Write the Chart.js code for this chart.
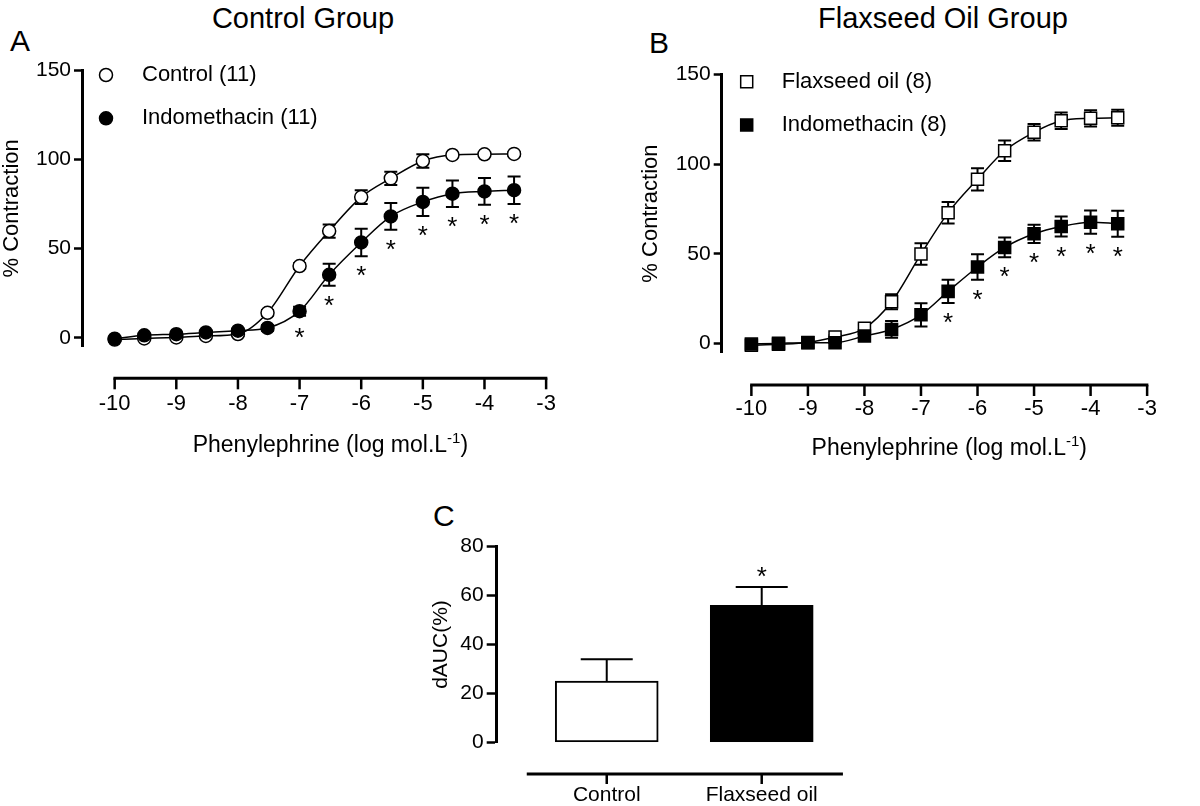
<!DOCTYPE html>
<html>
<head>
<meta charset="utf-8">
<script src="https://cdn.jsdelivr.net/npm/chart.js@4.4.0/dist/chart.umd.min.js"></script>
<style>
  body { margin: 0; background: #fff; }
  #painel { position: relative; width: 1200px; height: 806px; overflow: hidden; background: #fff;
            font-family: "Liberation Sans", Arial, sans-serif; color: #000; }
  canvas { position: absolute; }
  .txt { position: absolute; line-height: 1; white-space: nowrap; }
  .titulo { font-size: 29px; transform: translateX(-50%); }
  .letra { font-size: 30px; }
</style>
</head>
<body>
<div id="painel">
  <div class="txt titulo" style="left:303px; top:4px;">Control Group</div>
  <div class="txt titulo" style="left:943px; top:4px;">Flaxseed Oil Group</div>
  <div class="txt letra" style="left:10px; top:26px;">A</div>
  <div class="txt letra" style="left:649px; top:28px;">B</div>
  <div class="txt letra" style="left:433px; top:501px;">C</div>
  <canvas id="graficoA" width="600" height="470" style="left:0; top:0;"></canvas>
  <canvas id="graficoB" width="570" height="470" style="left:630px; top:0;"></canvas>
  <canvas id="graficoC" width="520" height="316" style="left:380px; top:490px;"></canvas>
</div>
<script>
// ---- dados ----
// log da concentração de fenilefrina (1e-10, 3e-10, 1e-9, ...)
const logConc = [-10, -9.52, -9, -8.52, -8, -7.52, -7, -6.52, -6, -5.52, -5, -4.52, -4, -3.52];
const xTicks = [-10, -9, -8, -7, -6, -5, -4, -3];
const yTicksAB = [0, 50, 100, 150];

// Painel A - grupo controle
const controleA     = [-1, -0.4, 0.2, 1, 2.1, 14, 40.2, 59.8, 78.8, 89.3, 99, 102.4, 102.8, 103];
const controleAErro = [0, 0, 0, 0, 1, 1.5, 1.5, 3.7, 3.9, 3.7, 3.8, 1, 1, 1];
const indoA         = [-0.5, 1.4, 2, 3, 4, 5.5, 14.9, 35.3, 53.4, 68, 76.1, 80.7, 82, 82.7];
const indoAErro     = [0, 0, 0, 1, 1, 1.5, 2.5, 6.1, 7.7, 7.5, 7.9, 7.4, 7.5, 7.7];
const indoASig      = [0, 0, 0, 0, 0, 0, 1, 1, 1, 1, 1, 1, 1, 1];

// Painel B - grupo óleo de linhaça
const linhacaB      = [-1, -0.5, 0.5, 3.5, 8.4, 23.2, 49.8, 72.8, 91.5, 107.4, 117.7, 124.1, 125.5, 125.8];
const linhacaBErro  = [0, 0, 0, 1, 2, 4.2, 6, 6, 6.2, 5.7, 4.6, 4.6, 4.5, 4.5];
const indoB         = [-0.4, 0, 0.4, 0.4, 4.1, 7.8, 15.9, 29, 42.6, 53.5, 61.1, 65.2, 67.6, 66.7];
const indoBErro     = [0, 0, 0, 0, 1, 4.7, 6.5, 6.5, 7.1, 5.5, 5.1, 5.6, 6.5, 7.2];
const indoBSig      = [0, 0, 0, 0, 0, 0, 0, 1, 1, 1, 1, 1, 1, 1];

// Painel C - dAUC
const gruposC  = ['Control', 'Flaxseed oil'];
const dAUC     = [25, 56];
const dAUCErro = [9, 7.5];
const dAUCSig  = [0, 1];
const yTicksC  = [0, 20, 40, 60, 80];

Chart.defaults.font.family = '"Liberation Sans", Arial, sans-serif';
Chart.defaults.color = '#000';

// barras de erro (SEM) desenhadas com as escalas do gráfico
function desenhaErros(chart, opts) {
    const ctx = chart.ctx;
    const ys = chart.scales.y;
    ctx.save();
    ctx.strokeStyle = '#000';
    ctx.lineWidth = opts.espessura;
    chart.data.datasets.forEach((ds, i) => {
        if (!ds.yErr) return;
        const meta = chart.getDatasetMeta(i);
        meta.data.forEach((el, j) => {
            const e = ds.yErr[j];
            if (!e) return;
            const v = ds.data[j].y;
            const topo = ys.getPixelForValue(v + e);
            const base = opts.soAcima ? el.y : ys.getPixelForValue(v - e);
            ctx.beginPath();
            ctx.moveTo(el.x, topo);
            ctx.lineTo(el.x, base);
            ctx.moveTo(el.x - opts.tampa, topo);
            ctx.lineTo(el.x + opts.tampa, topo);
            if (!opts.soAcima) {
                ctx.moveTo(el.x - opts.tampa, base);
                ctx.lineTo(el.x + opts.tampa, base);
            }
            ctx.stroke();
        });
    });
    ctx.restore();
}

const barrasErro = {
    id: 'barrasErro',
    beforeDatasetsDraw(chart, args, opts) { if (!opts.depois) desenhaErros(chart, opts); },
    afterDatasetsDraw(chart, args, opts) { if (opts.depois) desenhaErros(chart, opts); }
};

// asteriscos de significância
const asteriscos = {
    id: 'asteriscos',
    afterDatasetsDraw(chart, args, opts) {
        const ctx = chart.ctx;
        const ys = chart.scales.y;
        ctx.save();
        ctx.fillStyle = '#000';
        ctx.font = opts.fonte;
        ctx.textAlign = 'center';
        ctx.textBaseline = 'alphabetic';
        chart.data.datasets.forEach((ds, i) => {
            if (!ds.sig) return;
            const meta = chart.getDatasetMeta(i);
            meta.data.forEach((el, j) => {
                if (!ds.sig[j]) return;
                const v = ds.data[j].y;
                const e = ds.yErr ? ds.yErr[j] : 0;
                let yc;
                if (opts.acima) {
                    yc = ys.getPixelForValue(v + e) - opts.distancia;
                } else {
                    yc = Math.max(ys.getPixelForValue(v - e), el.y + (ds.pointRadius || 0)) + opts.distancia;
                }
                ctx.fillText('*', el.x, yc + opts.ajuste);
            });
        });
        ctx.restore();
    }
};

// legenda dentro da área do gráfico (estilo GraphPad)
const legendaInterna = {
    id: 'legendaInterna',
    afterDatasetsDraw(chart, args, opts) {
        const {ctx, chartArea} = chart;
        ctx.save();
        chart.data.datasets.forEach((ds, i) => {
            const cx = chartArea.left + opts.marcadorX;
            const cy = chartArea.top + opts.topo + i * opts.espaco;
            ctx.lineWidth = ds.pointBorderWidth;
            ctx.strokeStyle = ds.pointBorderColor;
            ctx.fillStyle = ds.pointBackgroundColor;
            Chart.helpers.drawPoint(ctx, {
                pointStyle: ds.pointStyle,
                radius: ds.pointRadius,
                borderWidth: ds.pointBorderWidth,
                rotation: 0
            }, cx, cy);
            ctx.fillStyle = '#000';
            ctx.font = opts.fonte;
            ctx.textAlign = 'left';
            ctx.textBaseline = 'middle';
            ctx.fillText(ds.label, chartArea.left + opts.textoX, cy);
        });
        ctx.restore();
    }
};

// eixo X destacado, abaixo da área do gráfico
const eixoX = {
    id: 'eixoX',
    afterDraw(chart, args, opts) {
        const {ctx, chartArea} = chart;
        const xs = chart.scales.x;
        const y = chartArea.bottom + opts.distancia;
        const x0 = xs.getPixelForValue(opts.de);
        const x1 = xs.getPixelForValue(opts.ate);
        ctx.save();
        ctx.strokeStyle = '#000';
        ctx.lineWidth = 3;
        ctx.beginPath();
        ctx.moveTo(x0 - 1.25, y);
        ctx.lineTo(x1 + 1.25, y);
        ctx.stroke();
        ctx.lineWidth = 2.5;
        xs.ticks.forEach(t => {
            const x = xs.getPixelForValue(t.value);
            ctx.beginPath();
            ctx.moveTo(x, y);
            ctx.lineTo(x, y + opts.marca);
            ctx.stroke();
        });
        if (opts.titulo) {
            // título centrado na linha do eixo, com expoente
            const [base, expoente, fim] = opts.titulo;
            ctx.fillStyle = '#000';
            ctx.textBaseline = 'alphabetic';
            ctx.textAlign = 'left';
            ctx.font = '23px "Liberation Sans", Arial, sans-serif';
            const wBase = ctx.measureText(base).width;
            const wFim = ctx.measureText(fim).width;
            ctx.font = '15px "Liberation Sans", Arial, sans-serif';
            const wExp = ctx.measureText(expoente).width;
            let x = (x0 + x1) / 2 - (wBase + wExp + wFim) / 2;
            const yb = chartArea.bottom + opts.tituloDist;
            ctx.font = '23px "Liberation Sans", Arial, sans-serif';
            ctx.fillText(base, x, yb);
            x += wBase;
            ctx.font = '15px "Liberation Sans", Arial, sans-serif';
            ctx.fillText(expoente, x, yb - 9);
            x += wExp;
            ctx.font = '23px "Liberation Sans", Arial, sans-serif';
            ctx.fillText(fim, x, yb);
        }
        ctx.restore();
    }
};

function serieCurva(label, valores, erros, sig, estilo, preenchimento, raio, ordem) {
    return {
        label: label,
        data: logConc.map((x, i) => ({x: x, y: valores[i]})),
        yErr: erros,
        sig: sig,
        borderColor: '#000',
        borderWidth: 1.5,
        cubicInterpolationMode: 'monotone',
        pointStyle: estilo,
        pointRadius: raio,
        pointBackgroundColor: preenchimento,
        pointBorderColor: '#000',
        pointBorderWidth: 1.5,
        clip: false,
        order: ordem
    };
}

function opcoesCurva(c) {
    return {
        responsive: false,
        animation: false,
        events: [],
        devicePixelRatio: 1,
        layout: { padding: { top: c.padTopo, right: c.padDireita, bottom: 0, left: 0 } },
        plugins: {
            legend: { display: false },
            tooltip: { enabled: false },
            barrasErro: { espessura: 2, tampa: 6.5 },
            asteriscos: { fonte: '26px "Liberation Sans", Arial, sans-serif', distancia: 13.5, ajuste: 14.5 },
            legendaInterna: { marcadorX: c.legX, textoX: c.legTexto, topo: c.legTopo, espaco: 43.3, fonte: '22px "Liberation Sans", Arial, sans-serif' },
            eixoX: { de: -10, ate: -3, distancia: c.eixoDist, marca: 11, tituloDist: c.tituloDist,
                     titulo: ['Phenylephrine (log mol.L', '-1', ')'] }
        },
        scales: {
            x: {
                type: 'linear',
                min: c.xMin,
                max: -3,
                afterFit: s => { s.height = c.xAltura; },
                afterBuildTicks: s => { s.ticks = xTicks.map(v => ({value: v})); },
                border: { display: false },
                grid: { display: false, drawTicks: false },
                ticks: { color: '#000', font: { size: 22 }, padding: c.ticksPad, maxRotation: 0, autoSkip: false,
                         callback: v => String(v) }
            },
            y: {
                min: c.yMin,
                max: 150,
                afterFit: s => { s.width = c.yLargura; },
                afterBuildTicks: s => { s.ticks = yTicksAB.map(v => ({value: v})); },
                border: { display: true, width: 3, color: '#000' },
                grid: { display: true, drawOnChartArea: false, drawTicks: true, tickLength: 8,
                        tickWidth: 2.5, tickColor: '#000', color: '#000' },
                ticks: { color: '#000', font: { size: 21 }, padding: 3 },
                title: { display: true, text: '% Contraction', color: '#000', font: { size: 22 },
                         padding: { top: c.tituloYPad, bottom: 0 } }
            }
        }
    };
}

// ---- Painel A ----
new Chart(document.getElementById('graficoA'), {
    type: 'line',
    data: {
        datasets: [
            serieCurva('Control (11)', controleA, controleAErro, null, 'circle', '#fff', 6.5, 1),
            serieCurva('Indomethacin (11)', indoA, indoAErro, indoASig, 'circle', '#000', 6.5, 0)
        ]
    },
    options: opcoesCurva({ xMin: -10.53, yMin: -5, yLargura: 82, xAltura: 123.3, padTopo: 70, padDireita: 53.1,
                           tituloYPad: -1.6, ticksPad: 44.1, eixoDist: 31.6, tituloDist: 105,
                           legX: 24, legTexto: 60, legTopo: 5 }),
    plugins: [barrasErro, asteriscos, legendaInterna, eixoX]
});

// ---- Painel B ----
new Chart(document.getElementById('graficoB'), {
    type: 'line',
    data: {
        datasets: [
            serieCurva('Flaxseed oil (8)', linhacaB, linhacaBErro, null, 'rect', '#fff', 8.5, 1),
            serieCurva('Indomethacin (8)', indoB, indoBErro, indoBSig, 'rect', '#000', 8.5, 0)
        ]
    },
    options: opcoesCurva({ xMin: -10.525, yMin: -5.2, yLargura: 91.7, xAltura: 117.3, padTopo: 74.4, padDireita: 11.2,
                           tituloYPad: 7.5, ticksPad: 43.1, eixoDist: 32.3, tituloDist: 102,
                           legX: 25, legTexto: 60, legTopo: 7.3 }),
    plugins: [barrasErro, asteriscos, legendaInterna, eixoX]
});

// ---- Painel C ----
new Chart(document.getElementById('graficoC'), {
    type: 'bar',
    data: {
        datasets: [{
            label: 'dAUC',
            data: gruposC.map((g, i) => ({x: i, y: dAUC[i]})),
            yErr: dAUCErro,
            sig: dAUCSig,
            backgroundColor: ['#fff', '#000'],
            borderColor: '#000',
            borderWidth: 2,
            borderSkipped: false,
            barThickness: 103
        }]
    },
    options: {
        responsive: false,
        animation: false,
        events: [],
        devicePixelRatio: 1,
        layout: { padding: { top: 56.7, right: 45.3, bottom: 0, left: 0 } },
        plugins: {
            legend: { display: false },
            tooltip: { enabled: false },
            barrasErro: { espessura: 2, tampa: 26, soAcima: true, depois: true },
            asteriscos: { fonte: '26px "Liberation Sans", Arial, sans-serif', distancia: 16.7, ajuste: 14.5, acima: true },
            eixoX: { de: -0.508, ate: 1.516, distancia: 31.7, marca: 10 }
        },
        scales: {
            x: {
                type: 'linear',
                offset: false,
                min: -0.71,
                max: 1.6,
                afterFit: s => { s.height = 63.7; },
                afterBuildTicks: s => { s.ticks = gruposC.map((g, i) => ({value: i})); },
                border: { display: false },
                grid: { display: false, drawTicks: false },
                ticks: { color: '#000', font: { size: 21 }, padding: 40.1, maxRotation: 0, autoSkip: false,
                         callback: v => gruposC[v] }
            },
            y: {
                min: 0,
                max: 80,
                afterFit: s => { s.width = 116.7; },
                afterBuildTicks: s => { s.ticks = yTicksC.map(v => ({value: v})); },
                border: { display: true, width: 3, color: '#000' },
                grid: { display: true, drawOnChartArea: false, drawTicks: true, tickLength: 10,
                        tickWidth: 2.5, tickColor: '#000', color: '#000' },
                ticks: { color: '#000', font: { size: 21 }, padding: 3 },
                title: { display: true, text: 'dAUC(%)', color: '#000', font: { size: 21 },
                         padding: { top: 49.1, bottom: 0 } }
            }
        }
    },
    plugins: [barrasErro, asteriscos, eixoX]
});
</script>
</body>
</html>
